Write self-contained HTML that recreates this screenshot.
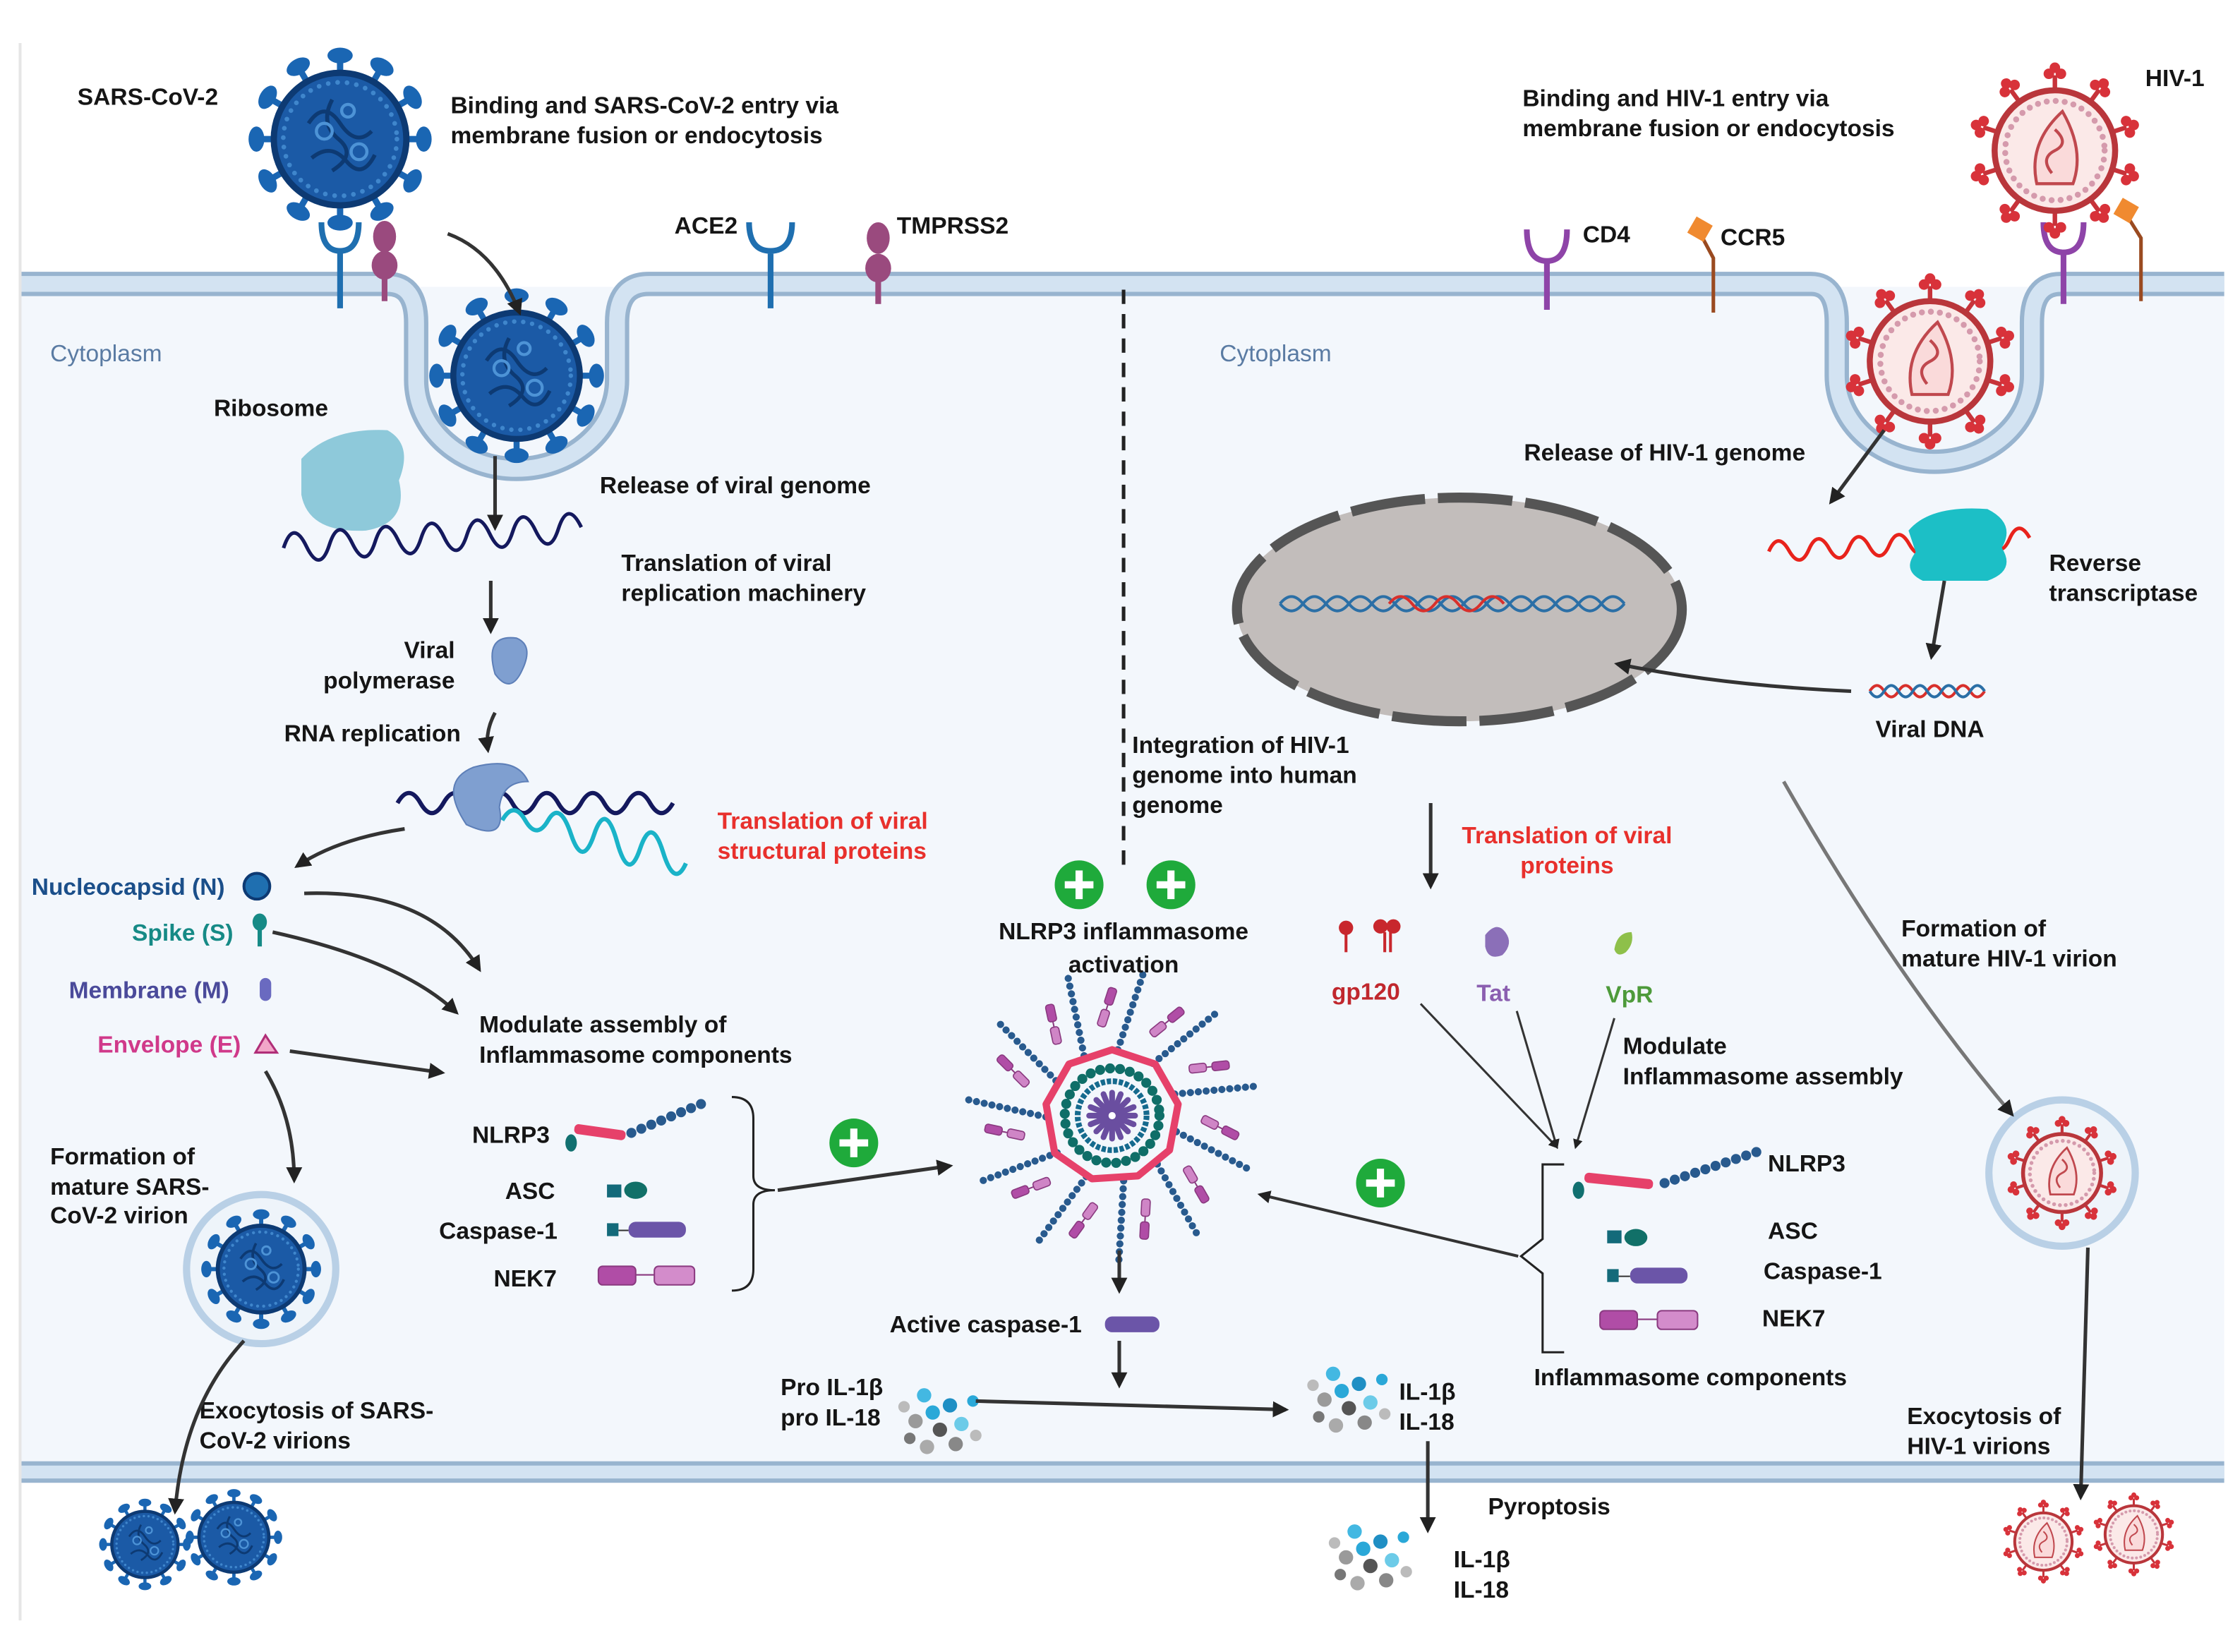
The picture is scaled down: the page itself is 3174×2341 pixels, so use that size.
<!DOCTYPE html>
<html><head><meta charset="utf-8"><style>
html,body{margin:0;padding:0;background:#fff}
svg{display:block}
text{font-family:"Liberation Sans",sans-serif;font-weight:bold;font-size:16.5px;fill:#151515}
.c{text-anchor:middle}.r{text-anchor:end}
.red{fill:#e8302c}
</style></head><body>
<svg width="3174" height="2341" viewBox="0 0 1561 1152" preserveAspectRatio="none" xmlns="http://www.w3.org/2000/svg">
<defs>
<marker id="ah" viewBox="0 0 10 10" refX="8" refY="5" markerWidth="4.5" markerHeight="4.5" orient="auto"><path d="M0,0L10,5L0,10z" fill="#222"/></marker>
<g id="cov">
 <g fill="#1a66b3" stroke="#1a66b3">
  <g id="sp"><line x1="0" y1="-38" x2="0" y2="-50" stroke-width="4"/><ellipse cx="0" cy="-53" rx="8" ry="5" stroke="none"/></g>
  <use href="#sp" transform="rotate(30)"/><use href="#sp" transform="rotate(60)"/><use href="#sp" transform="rotate(90)"/>
  <use href="#sp" transform="rotate(120)"/><use href="#sp" transform="rotate(150)"/><use href="#sp" transform="rotate(180)"/>
  <use href="#sp" transform="rotate(210)"/><use href="#sp" transform="rotate(240)"/><use href="#sp" transform="rotate(270)"/>
  <use href="#sp" transform="rotate(300)"/><use href="#sp" transform="rotate(330)"/>
 </g>
 <circle r="42" fill="#1b5aa6" stroke="#0d3a73" stroke-width="4"/>
 <circle r="36" fill="none" stroke="#3f86cc" stroke-width="3" stroke-dasharray="0 6" stroke-linecap="round"/>
 <path d="M-20,-10 q10,-15 20,0 t20,5 M-18,12 q12,-10 22,2 t18,-4 M-5,-25 q-8,15 4,25 t-4,20" fill="none" stroke="#0d3a73" stroke-width="2.5"/>
 <circle cx="-10" cy="-5" r="5" fill="none" stroke="#4d93d6" stroke-width="2"/><circle cx="12" cy="8" r="5" fill="none" stroke="#4d93d6" stroke-width="2"/><circle cx="5" cy="-18" r="4" fill="none" stroke="#4d93d6" stroke-width="2"/>
</g>
<g id="hiv">
 <g stroke="#c7333a" fill="#d8323a">
  <g id="hs"><line x1="0" y1="-38" x2="0" y2="-50" stroke-width="3"/><circle cx="-4" cy="-51" r="3.5" stroke="none"/><circle cx="4" cy="-51" r="3.5" stroke="none"/><circle cx="0" cy="-55" r="3.5" stroke="none"/></g>
  <use href="#hs" transform="rotate(36)"/><use href="#hs" transform="rotate(72)"/><use href="#hs" transform="rotate(108)"/><use href="#hs" transform="rotate(144)"/>
  <use href="#hs" transform="rotate(180)"/><use href="#hs" transform="rotate(216)"/><use href="#hs" transform="rotate(252)"/><use href="#hs" transform="rotate(288)"/><use href="#hs" transform="rotate(324)"/>
 </g>
 <circle r="40" fill="#fbe9e8" stroke="#b9363b" stroke-width="4"/>
 <circle r="33" fill="none" stroke="#d59aac" stroke-width="4" stroke-dasharray="0 6" stroke-linecap="round"/>
 <path d="M-12,22 Q-18,-5 5,-26 Q20,0 12,22 Z" fill="#fadada" stroke="#c0484e" stroke-width="2"/>
 <path d="M-2,15 q-8,-10 2,-15 t0,-14" fill="none" stroke="#c0484e" stroke-width="2"/>
</g>
<g id="dots">
 <circle cx="0" cy="0" r="5" fill="#2aa8d8"/><circle cx="12" cy="-5" r="5" fill="#1f8fc4"/><circle cx="-12" cy="6" r="5" fill="#9a9a9a"/>
 <circle cx="5" cy="12" r="5" fill="#555"/><circle cx="20" cy="8" r="5" fill="#6ccbe8"/><circle cx="-6" cy="-12" r="5" fill="#43b8e2"/>
 <circle cx="-20" cy="-4" r="4" fill="#bbb"/><circle cx="16" cy="22" r="5" fill="#888"/><circle cx="-4" cy="24" r="5" fill="#aaa"/>
 <circle cx="28" cy="-8" r="4" fill="#2aa8d8"/><circle cx="-16" cy="18" r="4" fill="#777"/><circle cx="30" cy="16" r="4" fill="#bbb"/>
</g>
<g id="ch">
 <line x1="4" y1="-46" x2="22" y2="-100" stroke="#285a8e" stroke-width="5" stroke-dasharray="0 5.5" stroke-linecap="round"/>
 <g transform="translate(-6,-68) rotate(18)">
 <rect x="-3" y="-6" width="6" height="12" rx="2" fill="#cf85c6" stroke="#8a3a80" stroke-width="0.8"/>
 <line x1="0" y1="-6" x2="0" y2="-10" stroke="#8a3a80"/>
 <rect x="-3" y="-22" width="6" height="12" rx="2" fill="#b04da6" stroke="#8a3a80" stroke-width="0.8"/>
 </g>
</g>
</defs>

<rect width="1561" height="1152" fill="#fff"/>
<line x1="14" y1="30" x2="14" y2="1130" stroke="#e6e6e6" stroke-width="2"/>
<rect x="15" y="200" width="1535" height="825" fill="#f3f7fc"/>

<g fill="none">
<path d="M15,198 H270 Q290,198 290,225 V265 A70,62 0 0 0 430,265 V225 Q430,198 452,198 H1262 Q1280,198 1280,225 V262 A68,60 0 0 0 1416,262 V225 Q1416,198 1436,198 H1550" stroke="#98b4cf" stroke-width="17"/>
<path d="M15,198 H270 Q290,198 290,225 V265 A70,62 0 0 0 430,265 V225 Q430,198 452,198 H1262 Q1280,198 1280,225 V262 A68,60 0 0 0 1416,262 V225 Q1416,198 1436,198 H1550" stroke="#d3e3f2" stroke-width="11"/>
</g>
<rect x="15" y="1019" width="1535" height="15" fill="#98b4cf"/><rect x="15" y="1022" width="1535" height="9" fill="#d3e3f2"/>

<line x1="783" y1="202" x2="783" y2="605" stroke="#222" stroke-width="2.5" stroke-dasharray="10 7"/>

<g fill="none" stroke-width="4">
<path d="M224,155 Q224,175 237,175 Q250,175 250,155 M237,175 V215" stroke="#1f6fb0"/>
<path d="M522,155 Q522,175 537,175 Q552,175 552,155 M537,175 V215" stroke="#1f6fb0"/>
<path d="M1064,160 Q1064,182 1078,182 Q1092,182 1092,160 M1078,182 V216" stroke="#8e44a8"/>
<path d="M1424,155 Q1424,176 1438,176 Q1452,176 1452,155 M1438,176 V212" stroke="#8e44a8"/>
<path d="M1186,165 L1194,180 V218" stroke="#9a4a20" stroke-width="2.5"/>
<path d="M1482,150 L1492,166 V210" stroke="#9a4a20" stroke-width="2.5"/>
</g>
<g fill="#9a4a7e"><ellipse cx="268" cy="165" rx="8" ry="11"/><ellipse cx="268" cy="185" rx="9" ry="10"/><rect x="266" y="190" width="4" height="20"/>
<ellipse cx="612" cy="166" rx="8" ry="11"/><ellipse cx="612" cy="187" rx="9" ry="10"/><rect x="610" y="192" width="4" height="20"/></g>
<rect x="1178" y="153" width="13" height="13" fill="#f08a30" transform="rotate(30 1184 160)"/>
<rect x="1475" y="140" width="13" height="13" fill="#f08a30" transform="rotate(30 1481 147)"/>

<use href="#cov" transform="translate(237,97) scale(1.1)"/>
<use href="#cov" transform="translate(360,262) scale(1.05)"/>
<circle cx="182" cy="885" r="52" fill="#eef4fa" stroke="#b9d0e6" stroke-width="5"/>
<use href="#cov" transform="translate(182,885) scale(0.72)"/>
<use href="#cov" transform="translate(101,1077) scale(0.55)"/>
<use href="#cov" transform="translate(163,1072) scale(0.58)"/>
<use href="#hiv" transform="translate(1432,105) scale(1.05)"/>
<use href="#hiv" transform="translate(1345,252) scale(1.05)"/>
<circle cx="1437" cy="818" r="51" fill="#eef4fa" stroke="#b9d0e6" stroke-width="5"/>
<use href="#hiv" transform="translate(1437,818) scale(0.68)"/>
<use href="#hiv" transform="translate(1424,1075) scale(0.5)"/>
<use href="#hiv" transform="translate(1487,1070) scale(0.5)"/>

<text x="54" y="73">SARS-CoV-2</text>
<text x="314" y="79">Binding and SARS-CoV-2 entry via</text>
<text x="314" y="100">membrane fusion or endocytosis</text>
<text x="470" y="163">ACE2</text><text x="625" y="163">TMPRSS2</text>
<text x="35" y="252" style="font-weight:normal;fill:#5a7ba3">Cytoplasm</text>
<text x="850" y="252" style="font-weight:normal;fill:#5a7ba3">Cytoplasm</text>
<text x="149" y="290">Ribosome</text>
<text x="418" y="344">Release of viral genome</text>
<text x="433" y="398">Translation of viral</text><text x="433" y="419">replication machinery</text>
<text x="317" y="459" class="r">Viral</text><text x="317" y="480" class="r">polymerase</text>
<text x="198" y="517">RNA replication</text>
<text x="500" y="578" class="red">Translation of viral</text><text x="500" y="599" class="red">structural proteins</text>
<text x="22" y="624" style="fill:#1b4f8a">Nucleocapsid (N)</text>
<text x="92" y="656" style="fill:#168a86">Spike (S)</text>
<text x="48" y="696" style="fill:#4a4a9a">Membrane (M)</text>
<text x="68" y="734" style="fill:#d0398a">Envelope (E)</text>
<text x="334" y="720">Modulate assembly of</text><text x="334" y="741">Inflammasome components</text>
<text x="329" y="797">NLRP3</text><text x="352" y="836">ASC</text><text x="306" y="864">Caspase-1</text><text x="344" y="897">NEK7</text>
<text x="35" y="812">Formation of</text><text x="35" y="833">mature SARS-</text><text x="35" y="853">CoV-2 virion</text>
<text x="139" y="989">Exocytosis of SARS-</text><text x="139" y="1010">CoV-2 virions</text>

<path d="M210,320 Q230,298 270,300 Q288,310 278,335 Q285,365 255,370 Q215,372 210,345 Z" fill="#8ec9da"/>
<path d="M197,375 q8,-20 16,0 t16,0 t16,0 t16,0 t16,0 t16,0 t16,0 t16,0 t16,0 t16,0 t16,0 t16,0 t16,0" fill="none" stroke="#14195e" stroke-width="2.5" transform="rotate(-4 300 370)"/>
<path d="M345,470 q-8,-28 15,-25 q12,5 4,22 q-8,18 -19,3z" fill="#7f9fd0" stroke="#5d7fb8"/>
<path d="M277,560 q8,-14 16,0 t16,0 t16,0 t16,0 t16,0 t16,0 t16,0 t16,0 t16,0 t16,0 t16,0 t16,0" fill="none" stroke="#14195e" stroke-width="3"/>
<path d="M350,572 q8,-14 16,0 t16,0 t16,10 t16,0 t16,5 t16,5 t16,2 t16,8" fill="none" stroke="#1ab3c8" stroke-width="3"/>
<path d="M325,575 q-20,-30 5,-40 q30,-8 38,10 q-18,0 -20,18 q5,25 -23,12z" fill="#7f9fd0" stroke="#5d7fb8"/>

<circle cx="179" cy="618" r="9" fill="#1f6fb0" stroke="#0d3a73" stroke-width="2"/>
<path d="M181,645 v15" stroke="#168a86" stroke-width="3"/><ellipse cx="181" cy="643" rx="5" ry="6" fill="#168a86"/>
<rect x="181" y="682" width="8" height="16" rx="4" fill="#6a6ac0"/>
<path d="M178,734 L185,722 L193,734Z" fill="#f2a6c8" stroke="#b02e78" stroke-width="1.5"/>

<g>
<rect x="400" y="786" width="36" height="7" rx="3" fill="#e6416a" transform="rotate(8 418 790)"/>
<ellipse cx="398" cy="797" rx="4" ry="6" fill="#117070"/>
<line x1="440" y1="790" x2="493" y2="768" stroke="#285a8e" stroke-width="7" stroke-dasharray="0 7.5" stroke-linecap="round"/>
<rect x="423" y="826" width="10" height="9" fill="#136a7a"/><ellipse cx="443" cy="830" rx="8" ry="6" fill="#117068"/>
<rect x="423" y="853" width="8" height="9" fill="#136a7a"/><line x1="431" y1="858" x2="438" y2="858" stroke="#333"/><rect x="438" y="852" width="40" height="11" rx="5" fill="#6b55a8"/>
<rect x="417" y="883" width="26" height="13" rx="3" fill="#b04da6" stroke="#8a3a80"/><line x1="443" y1="889" x2="456" y2="889" stroke="#8a3a80"/><rect x="456" y="883" width="28" height="13" rx="3" fill="#d38ccb" stroke="#8a3a80"/>
<path d="M510,765 q15,0 15,15 v40 q0,10 15,10 q-15,0 -15,10 v45 q0,15 -15,15" fill="none" stroke="#222" stroke-width="1.5"/>
</g>

<g>
<circle cx="595" cy="797" r="17" fill="#1faa3b"/><path d="M595,787v20M585,797h20" stroke="#fff" stroke-width="5"/>
<circle cx="752" cy="617" r="17" fill="#1faa3b"/><path d="M752,607v20M742,617h20" stroke="#fff" stroke-width="5"/>
<circle cx="816" cy="617" r="17" fill="#1faa3b"/><path d="M816,607v20M806,617h20" stroke="#fff" stroke-width="5"/>
<circle cx="962" cy="825" r="17" fill="#1faa3b"/><path d="M962,815v20M952,825h20" stroke="#fff" stroke-width="5"/>
</g>

<!-- inflammasome -->
<g transform="translate(775,778)">
<use href="#ch"/><use href="#ch" transform="rotate(33)"/><use href="#ch" transform="rotate(66)"/><use href="#ch" transform="rotate(99)"/>
<use href="#ch" transform="rotate(132)"/><use href="#ch" transform="rotate(165)"/><use href="#ch" transform="rotate(198)"/><use href="#ch" transform="rotate(231)"/>
<use href="#ch" transform="rotate(264)"/><use href="#ch" transform="rotate(297)"/><use href="#ch" transform="rotate(330)"/>
<polygon points="0,-46 30,-36 46,-8 40,24 18,42 -14,44 -40,26 -46,-8 -30,-36" fill="none" stroke="#e6416a" stroke-width="5" stroke-linejoin="round"/>
<circle r="33" fill="none" stroke="#0f6e68" stroke-width="7" stroke-dasharray="0 7" stroke-linecap="round"/>
<circle r="24" fill="none" stroke="#156a8e" stroke-width="4" stroke-dasharray="3 1.2"/>
<g stroke="#6a4ea0" stroke-width="4" stroke-linecap="round">
<line x1="0" y1="-16" x2="0" y2="16"/><line x1="-16" y1="0" x2="16" y2="0"/><line x1="-11" y1="-11" x2="11" y2="11"/><line x1="-11" y1="11" x2="11" y2="-11"/>
<line x1="-6" y1="-15" x2="6" y2="15"/><line x1="-15" y1="-6" x2="15" y2="6"/><line x1="6" y1="-15" x2="-6" y2="15"/><line x1="15" y1="-6" x2="-15" y2="6"/>
</g><circle r="2.5" fill="#fff"/>
</g>
<text x="783" y="655" class="c">NLRP3 inflammasome</text><text x="783" y="678" class="c">activation</text>
<text x="620" y="929">Active caspase-1</text>
<rect x="770" y="918" width="38" height="11" rx="5" fill="#6b55a8"/>
<text x="544" y="973">Pro IL-1β</text><text x="544" y="994">pro IL-18</text>
<use href="#dots" transform="translate(650,985)"/>
<use href="#dots" transform="translate(935,970)"/>
<use href="#dots" transform="translate(950,1080)"/>
<text x="975" y="976">IL-1β</text><text x="975" y="997">IL-18</text>
<text x="1037" y="1056">Pyroptosis</text>
<text x="1013" y="1093">IL-1β</text><text x="1013" y="1114">IL-18</text>
<text x="789" y="525">Integration of HIV-1</text><text x="789" y="546">genome into human</text><text x="789" y="567">genome</text>

<text x="1495" y="60">HIV-1</text>
<text x="1061" y="74">Binding and HIV-1 entry via</text><text x="1061" y="95">membrane fusion or endocytosis</text>
<text x="1103" y="169">CD4</text><text x="1199" y="171">CCR5</text>
<text x="1062" y="321">Release of HIV-1 genome</text>
<ellipse cx="1017" cy="425" rx="155" ry="78" fill="#c2bdbb" stroke="#555" stroke-width="7" stroke-dasharray="52 9"/>
<g fill="none" stroke-width="2">
<path d="M892,421 q8,-10 16,0 t16,0 t16,0 t16,0 t16,0 t16,0 t16,0 t16,0 t16,0 t16,0 t16,0 t16,0 t16,0 t16,0 t16,0" stroke="#2b6fa6"/>
<path d="M892,421 q8,10 16,0 t16,0 t16,0 t16,0 t16,0 t16,0 t16,0 t16,0 t16,0 t16,0 t16,0 t16,0 t16,0 t16,0 t16,0" stroke="#2b6fa6"/>
<path d="M968,421 q8,-10 16,0 t16,0 t16,0 t16,0 t16,0" stroke="#d8302c"/>
<path d="M1303,482 q5,-8 10,0 t10,0 t10,0 t10,0 t10,0 t10,0 t10,0 t10,0" stroke="#d8302c"/>
<path d="M1303,482 q5,8 10,0 t10,0 t10,0 t10,0 t10,0 t10,0 t10,0 t10,0" stroke="#2b6fa6"/>
<path d="M1232,380 q7,-14 14,0 t14,0 t14,0 t14,0 t14,0 t14,0 t14,0 t14,0 t14,0 t14,0 t14,0 t14,0 t14,0" stroke="#e8231c" stroke-width="2.5" transform="rotate(-3 1320 370)"/>
</g>
<path d="M1330,370 Q1345,352 1385,355 Q1405,365 1395,382 Q1405,398 1385,405 L1340,405 Q1325,398 1335,385 Z" fill="#1cbfc6"/>
<text x="1428" y="398">Reverse</text><text x="1428" y="419">transcriptase</text>
<text x="1307" y="514">Viral DNA</text>
<text x="1092" y="588" class="c red">Translation of viral</text><text x="1092" y="609" class="c red">proteins</text>
<g fill="#c8272d"><circle cx="938" cy="647" r="5"/><line x1="938" y1="650" x2="938" y2="664" stroke="#c8272d" stroke-width="2"/>
<circle cx="962" cy="646" r="5"/><circle cx="971" cy="646" r="5"/><line x1="965" y1="650" x2="965" y2="664" stroke="#c8272d" stroke-width="2"/><line x1="969" y1="650" x2="969" y2="664" stroke="#c8272d" stroke-width="2"/></g>
<path d="M1035,652 q8,-10 14,-2 q6,8 -2,16 q-10,4 -12,-6z" fill="#8b6fb8"/>
<path d="M1125,662 q2,-12 12,-12 q2,8 -4,14 q-6,4 -8,-2z" fill="#8ec04a"/>
<text x="928" y="697" style="fill:#c0272d">gp120</text>
<text x="1029" y="698" style="fill:#8b5fb0">Tat</text>
<text x="1119" y="699" style="fill:#4d9a3a">VpR</text>
<text x="1131" y="735">Modulate</text><text x="1131" y="756">Inflammasome assembly</text>
<g>
<ellipse cx="1100" cy="830" rx="4" ry="6" fill="#117070"/>
<rect x="1104" y="820" width="48" height="7" rx="3" fill="#e6416a" transform="rotate(6 1128 824)"/>
<line x1="1160" y1="825" x2="1228" y2="802" stroke="#285a8e" stroke-width="7" stroke-dasharray="0 7.5" stroke-linecap="round"/>
<rect x="1120" y="858" width="10" height="9" fill="#136a7a"/><ellipse cx="1140" cy="863" rx="8" ry="6" fill="#117068"/>
<rect x="1120" y="885" width="8" height="9" fill="#136a7a"/><line x1="1128" y1="890" x2="1136" y2="890" stroke="#333"/><rect x="1136" y="884" width="40" height="11" rx="5" fill="#6b55a8"/>
<rect x="1115" y="914" width="26" height="13" rx="3" fill="#b04da6" stroke="#8a3a80"/><line x1="1141" y1="920" x2="1155" y2="920" stroke="#8a3a80"/><rect x="1155" y="914" width="28" height="13" rx="3" fill="#d38ccb" stroke="#8a3a80"/>
<path d="M1090,812 h-15 v52 l-15,12 l15,12 v55 h15" fill="none" stroke="#222" stroke-width="1.5"/>
</g>
<text x="1232" y="817">NLRP3</text><text x="1232" y="864">ASC</text><text x="1229" y="892">Caspase-1</text><text x="1228" y="925">NEK7</text>
<text x="1069" y="966">Inflammasome components</text>
<text x="1325" y="653">Formation of</text><text x="1325" y="674">mature HIV-1 virion</text>
<text x="1329" y="993">Exocytosis of</text><text x="1329" y="1014">HIV-1 virions</text>

<g fill="none" stroke="#333" stroke-width="2.5" marker-end="url(#ah)">
<path d="M312,163 Q345,175 362,218"/>
<path d="M345,318 V368"/>
<path d="M342,405 V440"/>
<path d="M345,497 Q338,510 340,523"/>
<path d="M282,578 Q235,585 207,604"/>
<path d="M212,623 Q300,620 334,676"/>
<path d="M190,650 Q280,670 318,706"/>
<path d="M202,733 L308,748"/>
<path d="M185,747 Q205,780 205,823"/>
<path d="M170,935 Q128,980 122,1054"/>
<path d="M542,830 L662,813"/>
<path d="M780,872 V900"/>
<path d="M780,935 V966"/>
<path d="M680,977 L896,983"/>
<path d="M995,1005 V1067"/>
<path d="M1313,300 L1276,350"/>
<path d="M1355,405 L1346,458"/>
<path d="M1290,482 Q1200,478 1127,463"/>
<path d="M997,560 V618"/>
<path d="M990,700 L1085,800" stroke-width="1.5"/>
<path d="M1057,705 L1085,800" stroke-width="1.5"/>
<path d="M1125,710 L1098,800" stroke-width="1.5"/>
<path d="M1058,876 L878,833" stroke-width="2"/>
<path d="M1243,545 Q1320,680 1402,777" stroke="#777"/>
<path d="M1455,870 L1450,1044"/>
</g>
</svg>
</body></html>
